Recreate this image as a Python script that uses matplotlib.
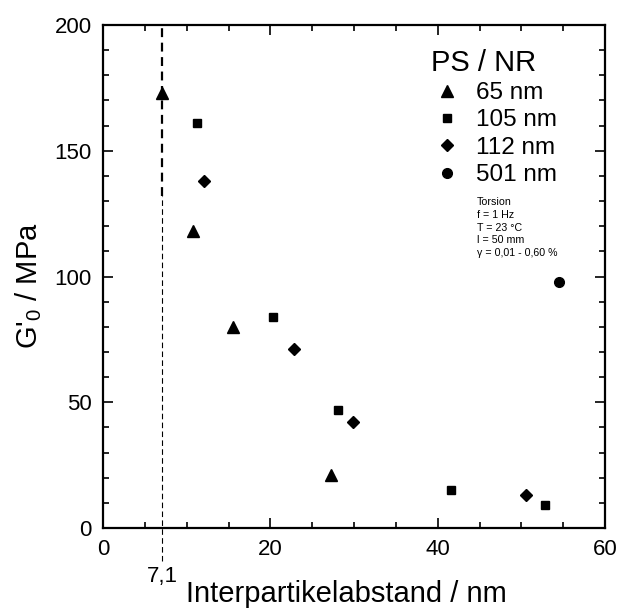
import matplotlib
matplotlib.use("Agg")
import matplotlib.pyplot as plt
from matplotlib.ticker import MultipleLocator

plt.rcParams['font.family'] = ['Liberation Sans', 'DejaVu Sans']

# interparticle distance (nm) and storage modulus G'0 (MPa)
x_65 = [7.1, 10.8, 15.5, 27.3]
g_65 = [173, 118, 80, 21]
x_105 = [11.2, 20.3, 28.1, 41.6, 52.8]
g_105 = [161, 84, 47, 15, 9]
x_112 = [12.1, 22.8, 29.9, 50.6]
g_112 = [138, 71, 42, 13]
x_501 = [54.5]
g_501 = [98]

labels = ['65 nm', '105 nm', '112 nm', '501 nm']
cond_lines = ['Torsion', 'f = 1 Hz', 'T = 23 °C', 'l = 50 mm', 'γ = 0,01 - 0,60 %']
x_crit = 7.1

fig = plt.figure(figsize=(6.22, 6.10), dpi=100)
ax = fig.add_axes([0.1656, 0.1344, 0.8071, 0.8246])

ax.plot(x_65, g_65, '^', color='k', ms=8.5, ls='none', label=labels[0])
ax.plot(x_105, g_105, 's', color='k', ms=6, ls='none', label=labels[1])
ax.plot(x_112, g_112, 'D', color='k', ms=6.5, ls='none', label=labels[2])
ax.plot(x_501, g_501, 'o', color='k', ms=7, ls='none', label=labels[3])

# vertical marker at 7,1 nm
ax.plot([x_crit, x_crit], [132, 200], color='k', lw=1.6, ls=(0, (4, 2.5)), clip_on=False)
ax.plot([x_crit, x_crit], [-13, 132], color='k', lw=0.8, ls=(0, (5, 3)), clip_on=False)
ax.text(x_crit, -15, '7,1', ha='center', va='top', fontsize=16)

ax.set_xlim(0, 60)
ax.set_ylim(0, 200)
ax.xaxis.set_major_locator(MultipleLocator(20))
ax.xaxis.set_minor_locator(MultipleLocator(5))
ax.yaxis.set_major_locator(MultipleLocator(50))
ax.yaxis.set_minor_locator(MultipleLocator(10))
ax.tick_params(which='both', direction='in', top=True, right=True, width=1.2)
ax.tick_params(which='major', length=7, labelsize=16)
ax.tick_params(which='minor', length=4)
ax.tick_params(axis='x', which='major', pad=8)
ax.tick_params(axis='y', which='major', pad=8)
for s in ax.spines.values():
    s.set_linewidth(1.6)

ax.set_xlabel('Interpartikelabstand / nm', fontsize=21)
ax.set_ylabel(r"G'$_\mathregular{0}$ / MPa", fontsize=21)
ax.xaxis.set_label_coords(0.484, -0.104)
ax.yaxis.set_label_coords(-0.117, 0.482)

leg = ax.legend(title='PS / NR', loc='upper left', bbox_to_anchor=(0.63, 0.977),
                frameon=False, fontsize=17.5, title_fontsize=21,
                handletextpad=0.55, labelspacing=0.22, handlelength=1.3, borderpad=0)
leg._legend_box.align = 'left'

ax.text(0.745, 0.658, '\n'.join(cond_lines), transform=ax.transAxes,
        fontsize=7.7, va='top', ha='left', linespacing=1.35)

fig.savefig('out.png', dpi=100)
